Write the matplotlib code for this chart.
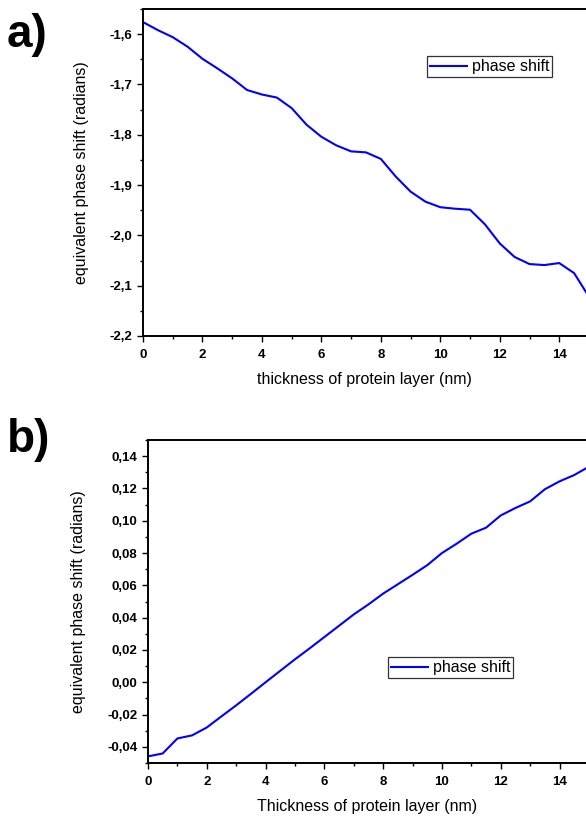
import matplotlib
matplotlib.use("Agg")
import matplotlib.pyplot as plt
from matplotlib.ticker import MultipleLocator, FuncFormatter

plt.rcParams['font.family'] = ['Liberation Sans', 'DejaVu Sans']

# thickness of protein layer (nm), sampled every 0.5 nm
thickness = [0.0, 0.5, 1.0, 1.5, 2.0, 2.5, 3.0, 3.5, 4.0, 4.5, 5.0, 5.5, 6.0, 6.5, 7.0, 7.5,
             8.0, 8.5, 9.0, 9.5, 10.0, 10.5, 11.0, 11.5, 12.0, 12.5, 13.0, 13.5, 14.0, 14.5, 15.0]

# panel a) equivalent phase shift (radians)
phase_a = [-1.576, -1.592, -1.606, -1.625, -1.649, -1.668, -1.688, -1.711, -1.720, -1.726,
           -1.747, -1.780, -1.804, -1.821, -1.833, -1.835, -1.848, -1.883, -1.913, -1.933,
           -1.944, -1.947, -1.949, -1.978, -2.016, -2.043, -2.057, -2.059, -2.055, -2.075,
           -2.122]

# panel b) equivalent phase shift (radians)
phase_b = [-0.0459, -0.0441, -0.0348, -0.0329, -0.0280, -0.0211, -0.0143, -0.0072, 0.0000,
           0.0071, 0.0142, 0.0210, 0.0280, 0.0350, 0.0420, 0.0482, 0.0549, 0.0607, 0.0665,
           0.0725, 0.0800, 0.0858, 0.0920, 0.0957, 0.1033, 0.1079, 0.1120, 0.1195, 0.1244,
           0.1283, 0.1335]

W, H = 586, 816
fig = plt.figure(figsize=(W / 100, H / 100), dpi=100)


def px_box(left, top, right, bottom):
    return [left / W, 1 - bottom / H, (right - left) / W, (bottom - top) / H]


def comma(fmt):
    return FuncFormatter(lambda v, pos: (fmt % v).replace('.', ','))


def style_axes(ax):
    for side in ['left', 'bottom', 'top']:
        ax.spines[side].set_linewidth(1.4)
    ax.spines['right'].set_visible(False)
    ax.tick_params(which='major', direction='out', length=4.5, width=1.0, pad=3,
                   labelsize=9.5, top=False, right=False)
    ax.tick_params(which='minor', direction='out', length=2.5, width=1.0, top=False, right=False)
    ax.tick_params(axis='x', which='major', pad=5)
    for lab in ax.get_xticklabels() + ax.get_yticklabels():
        lab.set_fontweight('bold')


def add_legend(ax, left, top):
    leg = ax.legend(loc='upper left', bbox_to_anchor=(left / W, 1 - top / H),
                    bbox_transform=fig.transFigure, fontsize=11.5, frameon=True,
                    fancybox=False, shadow=False, borderpad=0.2, handlelength=2.3,
                    handletextpad=0.3, borderaxespad=0)
    leg.get_frame().set_edgecolor('black')
    leg.get_frame().set_linewidth(0.9)


# ---- panel a ----
ax1 = fig.add_axes(px_box(143, 9, 586, 336))
ax1.plot(thickness, phase_a, color='#0000ff', lw=1.5, label='phase shift')
ax1.set_xlim(0, 14.9)
ax1.set_ylim(-2.2, -1.55)
ax1.xaxis.set_major_locator(MultipleLocator(2))
ax1.xaxis.set_minor_locator(MultipleLocator(1))
ax1.yaxis.set_major_locator(MultipleLocator(0.1))
ax1.yaxis.set_minor_locator(MultipleLocator(0.05))
ax1.yaxis.set_major_formatter(comma('%.1f'))
ax1.set_xlabel('thickness of protein layer (nm)', fontsize=11.5, labelpad=8)
ax1.set_ylabel('equivalent phase shift (radians)', fontsize=11.5, labelpad=15)
style_axes(ax1)
add_legend(ax1, 427, 56)

# ---- panel b ----
ax2 = fig.add_axes(px_box(148, 440, 586, 763))
ax2.plot(thickness, phase_b, color='#0000ff', lw=1.5, label='phase shift')
ax2.set_xlim(0, 14.9)
ax2.set_ylim(-0.05, 0.15)
ax2.xaxis.set_major_locator(MultipleLocator(2))
ax2.xaxis.set_minor_locator(MultipleLocator(1))
ax2.yaxis.set_major_locator(MultipleLocator(0.02))
ax2.yaxis.set_minor_locator(MultipleLocator(0.01))
ax2.yaxis.set_major_formatter(comma('%.2f'))
ax2.set_xlabel('Thickness of protein layer (nm)', fontsize=11.5, labelpad=7.5)
ax2.set_ylabel('equivalent phase shift (radians)', fontsize=11.5, labelpad=15)
style_axes(ax2)
add_legend(ax2, 388, 657)

fig.text(7 / W, 1 - 35 / H, 'a)', fontsize=33, fontweight='bold', va='center', ha='left')
fig.text(7 / W, 1 - 440 / H, 'b)', fontsize=33, fontweight='bold', va='center', ha='left')

fig.savefig('out.png', dpi=100)
